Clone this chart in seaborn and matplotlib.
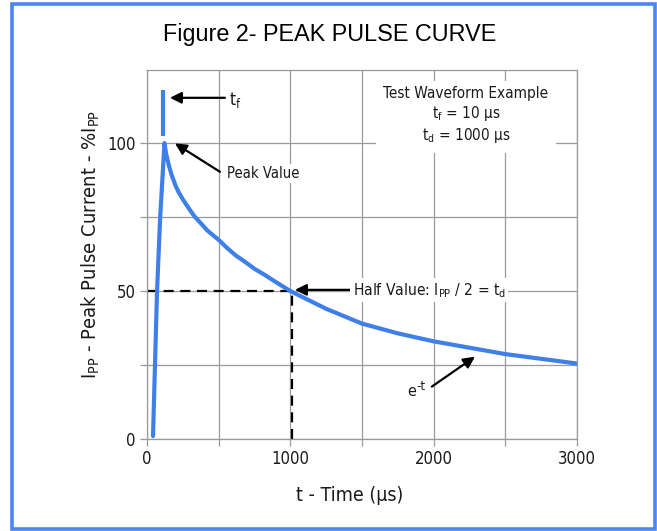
import numpy as np
import pandas as pd
import matplotlib
matplotlib.use('Agg')
import matplotlib.pyplot as plt
import seaborn as sns
from matplotlib.patches import Rectangle
from matplotlib.ticker import MultipleLocator, FuncFormatter

sns.set_theme(style="whitegrid")
plt.rcParams['font.family'] = ['DejaVu Sans']
plt.rcParams['font.stretch'] = 'condensed'
plt.rcParams['mathtext.fontset'] = 'custom'
plt.rcParams['mathtext.rm'] = 'DejaVu Sans:stretch=condensed'
plt.rcParams['mathtext.default'] = 'rm'

# curve (time in us, % of Ipp)
t_us = [42, 70, 92, 122, 128, 135, 145, 155, 170, 185, 200, 220, 250, 277, 305, 335, 370,
        420, 500, 560, 620, 680, 750, 820, 900, 1000, 1250, 1500, 1750, 2000, 2500, 3000]
ipp_pct = [1, 50, 75, 100, 98, 96, 94, 92, 89.5, 87.5, 85.5, 83.5, 81, 79, 77, 75, 73.2,
           70.5, 67.3, 64.5, 62, 60, 57.5, 55.5, 53, 50, 44, 39, 35.7, 33, 28.7, 25.5]
tf_mark_t = [114, 114]
tf_mark_pct = [102.5, 118]
half_t = 1015
half_pct = 50

x_ticks_labelled = [0, 1000, 2000, 3000]
y_ticks_labelled = [0, 50, 100]

curve = pd.DataFrame({'t': t_us, 'ipp': ipp_pct})
blue = '#3f7fe8'
ink = '#1a1a1a'

fig = plt.figure(figsize=(6.57, 5.31), dpi=100)
fig.patch.set_facecolor('white')
ax = fig.add_axes([147 / 657, 1 - 439 / 531, 430 / 657, 369 / 531])
ax.set_facecolor('white')

ax.grid(True, color='#9a9a9a', lw=0.9, zorder=0.5)
ax.set_axisbelow(True)

# dashed half-value guides
ax.plot([0, half_t], [half_pct, half_pct], color='black', lw=1.6, dashes=(4.5, 3), zorder=2.5)
ax.plot([half_t, half_t], [0, half_pct], color='black', lw=1.6, dashes=(4.5, 3), zorder=2.5)

sns.lineplot(data=curve, x='t', y='ipp', sort=False, color=blue, lw=3, ax=ax, zorder=3,
             solid_capstyle='round', solid_joinstyle='round')
ax.plot(tf_mark_t, tf_mark_pct, color=blue, lw=3, solid_capstyle='butt', zorder=3)

ax.set_xlim(0, 3000)
ax.set_ylim(0, 124.7)
ax.xaxis.set_major_locator(MultipleLocator(500))
ax.yaxis.set_major_locator(MultipleLocator(25))
ax.xaxis.set_major_formatter(FuncFormatter(lambda v, p: f'{int(v)}' if int(v) in x_ticks_labelled else ''))
ax.yaxis.set_major_formatter(FuncFormatter(lambda v, p: f'{int(v)}' if int(v) in y_ticks_labelled else ''))
ax.tick_params(axis='both', length=5, width=0.9, color='#9a9a9a', labelsize=12, pad=3,
               labelcolor=ink, bottom=True, left=True)
for s in ax.spines.values():
    s.set_color('#9a9a9a')
    s.set_linewidth(0.9)

ax.set_xlabel('t - Time (µs)', fontsize=14, color=ink)
ax.xaxis.set_label_coords(0.472, -0.128)
ax.xaxis.label.set_va('top')
ax.set_ylabel(r'$I_{PP}$ - Peak Pulse Current - %$I_{PP}$', fontsize=14.5, color=ink)
ax.yaxis.set_label_coords(-0.105, 0.526)

arrow = dict(arrowstyle='-|>', mutation_scale=17, lw=1.6, color='black', shrinkA=0, shrinkB=0)
ax.annotate('', xy=(160, 115.3), xytext=(544, 115.3), arrowprops=arrow, zorder=4)
ax.text(572, 114.5, r'$t_f$', fontsize=12.5, va='center', ha='left', color=ink, zorder=4)

ax.annotate('', xy=(195, 99.9), xytext=(509, 90.3), arrowprops=arrow, zorder=4)
ax.text(558, 89.8, 'Peak Value', fontsize=10.6, va='center', ha='left', color=ink, zorder=4,
        bbox=dict(boxstyle='square,pad=0.15', fc='white', ec='none'))

ax.text(2225, 109.2, 'Test Waveform Example\n$t_f$ = 10 µs\n$t_d$ = 1000 µs', fontsize=11,
        ha='center', va='center', linespacing=1.22, color=ink, zorder=4,
        bbox=dict(boxstyle='square,pad=0.5', fc='white', ec='none'))

ax.annotate('', xy=(1032, 50.4), xytext=(1430, 50.4), arrowprops=arrow, zorder=4)
ax.text(1435, 50.3, r'Half Value: $I_{PP}$ / 2 = $t_d$', fontsize=11.2, va='center', ha='left',
        color=ink, zorder=4, bbox=dict(boxstyle='square,pad=0.15', fc='white', ec='none'))

ax.annotate('', xy=(2288, 27.8), xytext=(1987, 17.7), arrowprops=arrow, zorder=4)
ax.text(1845, 15.9, 'e', fontsize=11.5, va='center', ha='center', color=ink, zorder=4)
ax.text(1877, 17.6, '-t', fontsize=9.5, va='center', ha='left', color=ink, zorder=4)

fig.text(0.5015, 1 - 35 / 531, 'Figure 2- PEAK PULSE CURVE', family=['Liberation Sans', 'DejaVu Sans'],
         stretch='normal', fontsize=16.8, ha='center', va='center', color='black')
fig.patches.append(Rectangle((12 / 657, 1 - 528.5 / 531), 642.5 / 657, 525 / 531,
                             transform=fig.transFigure, fill=False, ec='#4a86f0', lw=2.6))

fig.savefig('out.png', dpi=100)
